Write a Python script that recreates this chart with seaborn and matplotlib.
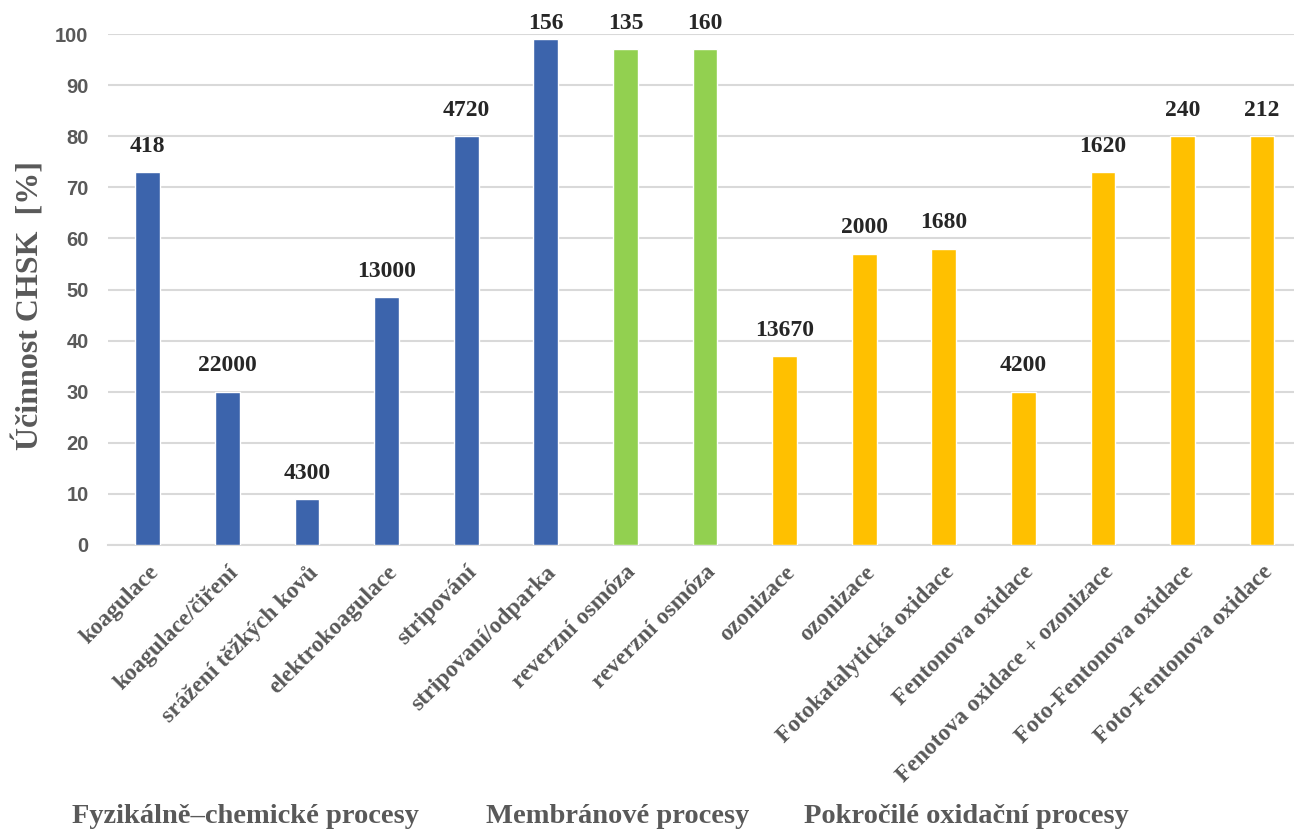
import numpy as np
import pandas as pd
import matplotlib.pyplot as plt
import seaborn as sns

# data
procesy = ['koagulace', 'koagulace/čiření', 'srážení těžkých kovů', 'elektrokoagulace',
           'stripování', 'stripovaní/odparka', 'reverzní osmóza', 'reverzní osmóza',
           'ozonizace', 'ozonizace', 'Fotokatalytická oxidace', 'Fentonova oxidace',
           'Fenotova oxidace + ozonizace', 'Foto-Fentonova oxidace', 'Foto-Fentonova oxidace']
ucinnost = [73, 30, 9, 48.5, 80, 99, 97, 97, 37, 57, 58, 30, 73, 80, 80]
chsk_vstup = ['418', '22000', '4300', '13000', '4720', '156', '135', '160',
              '13670', '2000', '1680', '4200', '1620', '240', '212']
skupina = ['fyz'] * 6 + ['mem'] * 2 + ['aop'] * 7
skupiny_popis = ['Fyzikálně–chemické procesy', 'Membránové procesy', 'Pokročilé oxidační procesy']
barvy = {'fyz': '#3C64AC', 'mem': '#92D050', 'aop': '#FFC000'}

df = pd.DataFrame({'idx': range(len(procesy)), 'ucinnost': ucinnost, 'skupina': skupina})

sns.set_style('white')
serif = ['Liberation Serif', 'DejaVu Serif']
sans = ['Liberation Sans', 'DejaVu Sans']
grey = '#595959'

fig = plt.figure(figsize=(12.94, 8.30), dpi=100)
ax = fig.add_axes([108 / 1294, 1 - 545 / 830, 1 - 108 / 1294, (545 - 34) / 830])

sns.barplot(data=df, x='idx', y='ucinnost', hue='skupina', palette=barvy, saturation=1,
            dodge=False, width=0.31, legend=False, ax=ax, zorder=3)

ax.set_xlim(-0.5, 14.4)
ax.set_ylim(0, 100)
ax.set_yticks(range(0, 101, 10))
ax.yaxis.grid(True, color='#D9D9D9', linewidth=1.5, zorder=0)
ax.set_axisbelow(True)
for s in ['top', 'right', 'left']:
    ax.spines[s].set_visible(False)
ax.spines['bottom'].set_color('#D9D9D9')
ax.spines['bottom'].set_linewidth(1.5)

ax.tick_params(axis='y', length=0, pad=14)
for lab in ax.get_yticklabels():
    lab.set_fontfamily(sans)
    lab.set_fontweight('bold')
    lab.set_fontsize(14.5)
    lab.set_color(grey)

ax.set_xticks(range(len(procesy)))
ax.set_xticklabels(procesy, rotation=45, ha='right', va='top', rotation_mode='anchor',
                   fontfamily=serif, fontweight='bold', fontsize=17, color=grey)
ax.tick_params(axis='x', length=0, pad=12)
ax.set_xlabel('')
ax.set_ylabel('Účinnost CHSK  [%]', fontfamily=serif, fontweight='bold', fontsize=23,
              color=grey, labelpad=7)
ax.yaxis.label.set_y(0.468)

# data labels: initial COD of the wastewater
for i, (v, t) in enumerate(zip(ucinnost, chsk_vstup)):
    ax.annotate(t, (i, min(v, 97)), xytext=(0, 11), textcoords='offset points',
                ha='center', va='bottom', fontfamily=serif, fontweight='bold',
                fontsize=17, color='#262626', annotation_clip=False)

# group captions under the chart
for x, txt in zip([245, 618, 966], skupiny_popis):
    fig.text(x / 1294, 1 - 816 / 830, txt, ha='center', va='center', fontfamily=serif,
             fontweight='bold', fontsize=20.5, color=grey)

fig.savefig('out.png', dpi=100)
